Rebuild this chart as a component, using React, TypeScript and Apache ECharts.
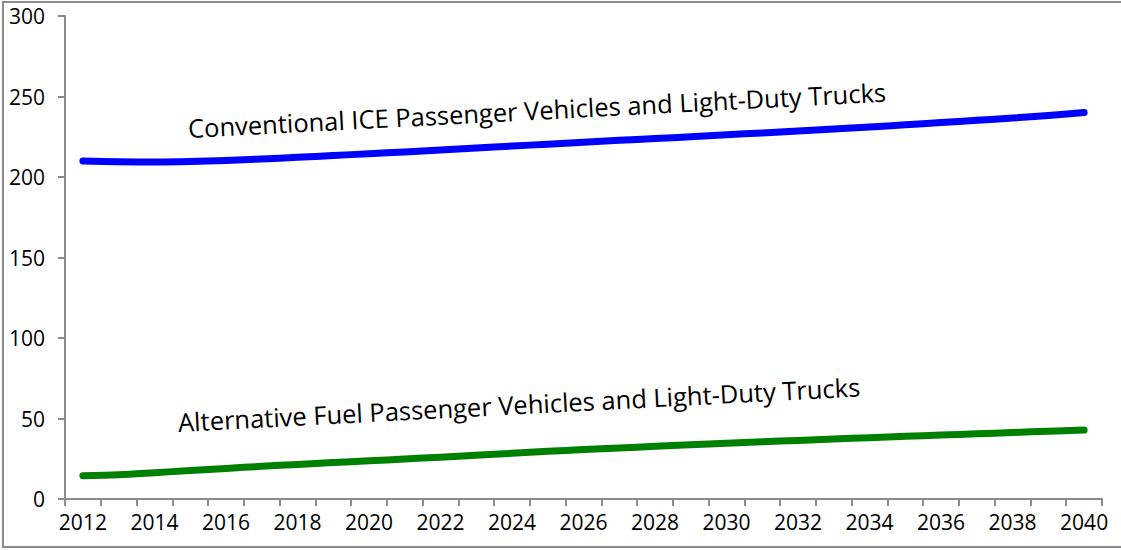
import React, { useEffect, useRef } from "react";
import * as echarts from "echarts";

const years: string[] = [
  "2012","2013","2014","2015","2016","2017","2018","2019","2020","2021",
  "2022","2023","2024","2025","2026","2027","2028","2029","2030","2031",
  "2032","2033","2034","2035","2036","2037","2038","2039","2040",
];

const conventionalICE: number[] = [
  210, 209.5, 209.3, 209.6, 210.3, 211.2, 212.2, 213.3, 214.5, 215.6,
  216.8, 218.0, 219.2, 220.4, 221.6, 222.8, 223.9, 225.0, 226.2, 227.4,
  228.6, 229.8, 231.1, 232.4, 233.8, 235.2, 236.6, 238.2, 240,
];

const alternativeFuel: number[] = [
  14.5, 15, 16.3, 17.7, 19, 20.3, 21.5, 22.6, 23.7, 24.8,
  26.0, 27.2, 28.4, 29.6, 30.7, 31.7, 32.7, 33.7, 34.6, 35.5,
  36.4, 37.3, 38.1, 38.9, 39.7, 40.5, 41.3, 42.1, 42.8,
];

const seriesNames: string[] = [
  "Conventional ICE Passenger Vehicles and Light-Duty Trucks",
  "Alternative Fuel Passenger Vehicles and Light-Duty Trucks",
];

const yMin = 0;
const yMax = 300;
const yInterval = 50;

const FONT = "'Open Sans', 'Noto Sans', sans-serif";
const AXIS_COLOR = "#8c8c8c";

export default function App() {
  const ref = useRef<HTMLDivElement>(null);

  useEffect(() => {
    document.body.style.margin = "0";
    if (!ref.current) return;
    const chart = echarts.init(ref.current, undefined, { renderer: "svg" });
    const rot = (3 * Math.PI) / 180;
    chart.setOption({
      animation: false,
      backgroundColor: "#ffffff",
      grid: { left: 65, right: 19, top: 16, bottom: 51, containLabel: false },
      xAxis: {
        type: "category",
        data: years,
        boundaryGap: true,
        axisLine: { show: true, lineStyle: { color: AXIS_COLOR, width: 2 } },
        axisTick: { show: true, interval: 0, length: 7, lineStyle: { color: AXIS_COLOR, width: 2 } },
        axisLabel: {
          interval: 1,
          color: "#000",
          fontSize: 21,
          fontFamily: FONT,
          margin: 12,
        },
        splitLine: { show: false },
      },
      yAxis: {
        type: "value",
        min: yMin,
        max: yMax,
        interval: yInterval,
        axisLine: { show: true, lineStyle: { color: AXIS_COLOR, width: 2 } },
        axisTick: { show: true, length: 7, lineStyle: { color: AXIS_COLOR, width: 2 } },
        axisLabel: {
          color: "#000",
          fontSize: 21,
          fontFamily: FONT,
          margin: 20,
        },
        splitLine: { show: false },
      },
      series: [
        {
          name: seriesNames[0],
          type: "line",
          data: conventionalICE,
          smooth: 0.3,
          symbol: "none",
          lineStyle: { color: "#0000ff", width: 7, cap: "round", join: "round" },
        },
        {
          name: seriesNames[1],
          type: "line",
          data: alternativeFuel,
          smooth: 0.3,
          symbol: "none",
          lineStyle: { color: "#008000", width: 7, cap: "round", join: "round" },
        },
      ],
      graphic: [
        {
          type: "rect",
          silent: true,
          shape: { x: 3, y: 2, width: 1130, height: 545 },
          style: { fill: "none", stroke: AXIS_COLOR, lineWidth: 2 },
        },
        {
          type: "text",
          x: 188,
          y: 128,
          rotation: rot,
          style: {
            text: seriesNames[0],
            fontSize: 25.5,
            fontFamily: FONT,
            fill: "#000",
            textAlign: "left",
            textVerticalAlign: "middle",
          },
        },
        {
          type: "text",
          x: 178,
          y: 422,
          rotation: rot,
          style: {
            text: seriesNames[1],
            fontSize: 25.5,
            fontFamily: FONT,
            fill: "#000",
            textAlign: "left",
            textVerticalAlign: "middle",
          },
        },
      ],
    });
    return () => chart.dispose();
  }, []);

  return <div ref={ref} style={{ width: 1121, height: 550 }} />;
}
